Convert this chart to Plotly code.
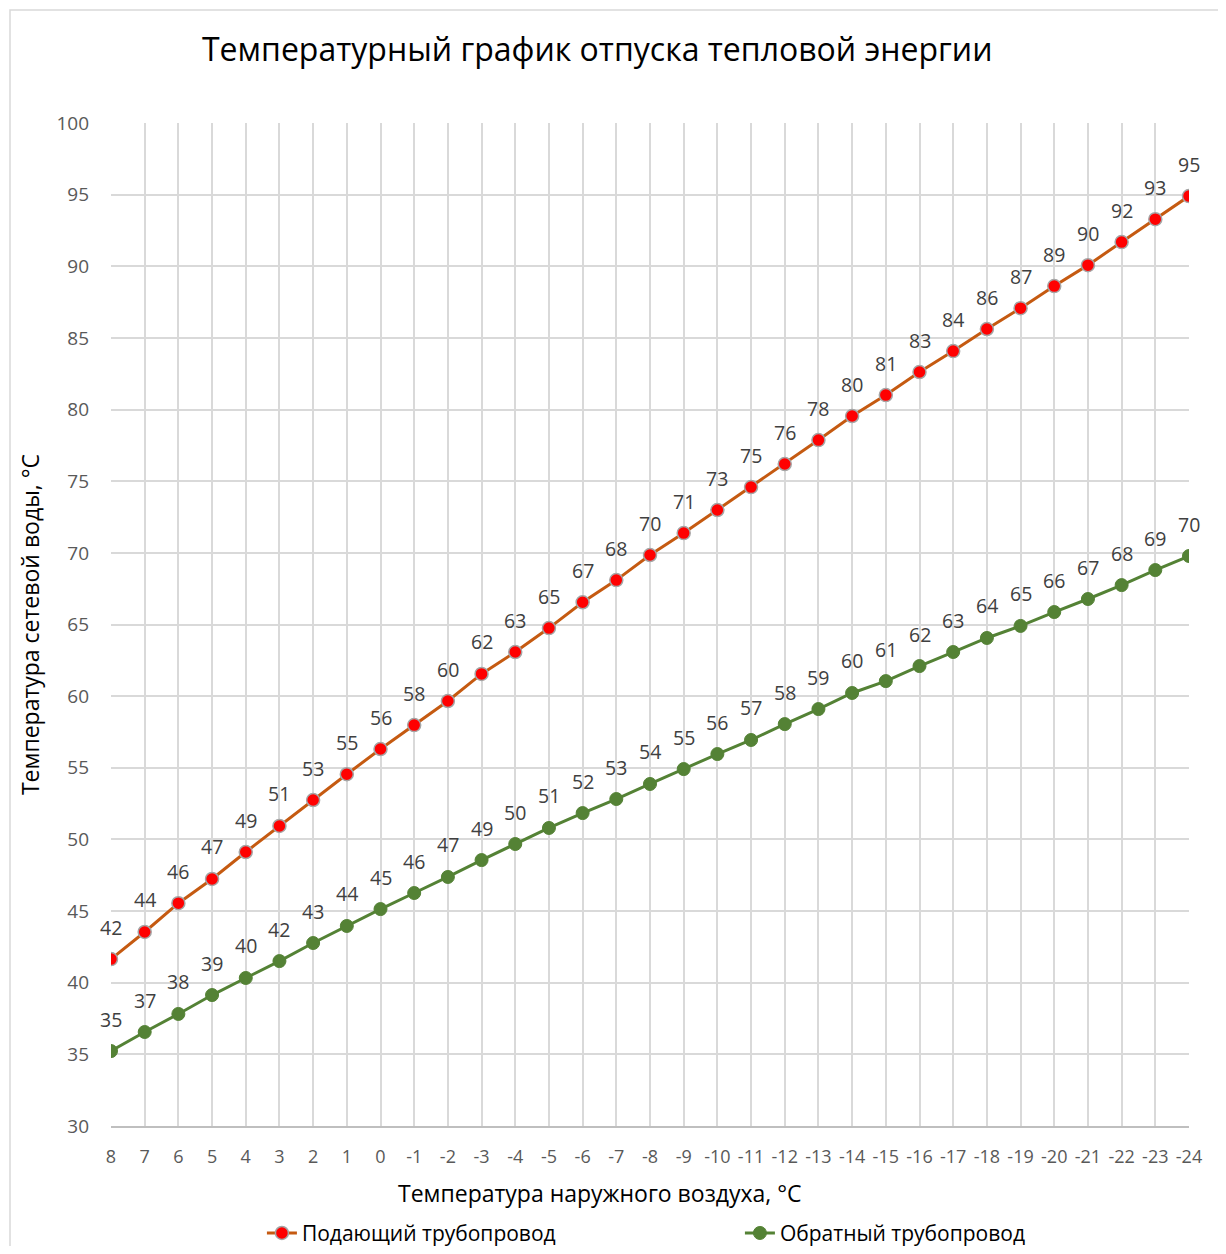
import plotly.graph_objects as go

categories = ["8", "7", "6", "5", "4", "3", "2", "1", "0", "-1", "-2", "-3", "-4", "-5", "-6", "-7", "-8",
              "-9", "-10", "-11", "-12", "-13", "-14", "-15", "-16", "-17", "-18", "-19", "-20", "-21",
              "-22", "-23", "-24"]
supply = [41.65, 43.54, 45.55, 47.24, 49.12, 50.94, 52.75, 54.55, 56.31, 57.98, 59.66, 61.55, 63.08,
          64.75, 66.55, 68.1, 69.85, 71.38, 72.99, 74.59, 76.2, 77.87, 79.55, 81.01, 82.62, 84.08,
          85.62, 87.08, 88.62, 90.08, 91.69, 93.29, 94.9]
ret = [35.23, 36.56, 37.82, 39.14, 40.33, 41.51, 42.77, 43.96, 45.14, 46.26, 47.38, 48.56, 49.68,
       50.8, 51.84, 52.82, 53.87, 54.91, 55.96, 56.94, 58.05, 59.1, 60.22, 61.05, 62.1, 63.08,
       64.06, 64.9, 65.87, 66.78, 67.75, 68.8, 69.78]
yticks = [30, 35, 40, 45, 50, 55, 60, 65, 70, 75, 80, 85, 90, 95, 100]

FONT = "Open Sans"
idx = list(range(len(categories)))

fig = go.Figure()
fig.add_trace(go.Scatter(
    x=idx, y=supply, mode="lines+markers", name="Подающий трубопровод",
    line=dict(color="#C55A11", width=3),
    marker=dict(color="#FF0000", size=13, line=dict(color="#A5A5A5", width=1.5)),
))
fig.add_trace(go.Scatter(
    x=idx, y=ret, mode="lines+markers", name="Обратный трубопровод",
    line=dict(color="#548235", width=3),
    marker=dict(color="#548235", size=13, line=dict(color="#548235", width=1)),
))

annotations = []
for series in (supply, ret):
    for i, v in zip(idx, series):
        annotations.append(dict(
            x=i, y=v, text=str(int(v + 0.5)), showarrow=False, yshift=32,
            font=dict(family=FONT, size=19.5, color="#404040"),
        ))

# x-axis title (offset left of the plot centre, as in the original)
annotations.append(dict(
    text="Температура наружного воздуха, °С", xref="paper", yref="paper",
    x=(600 - 111) / 1078, y=-(1193 - 1126) / 1003, xanchor="center", yanchor="middle",
    showarrow=False, font=dict(family=FONT, size=23, color="#000000"),
))

fig.update_layout(
    width=1210, height=1238,
    paper_bgcolor="white", plot_bgcolor="white",
    margin=dict(l=103, r=29, t=115, b=120, autoexpand=False),
    title=dict(text="Температурный график отпуска тепловой энергии",
               x=0.487, xanchor="center", y=0.966, yanchor="middle",
               font=dict(family=FONT, size=32, color="#000000")),
    xaxis=dict(
        range=[0, len(categories) - 1], tickvals=idx, ticktext=categories,
        showgrid=True, gridcolor="#D9D9D9", gridwidth=1.5,
        showline=True, linecolor="#BFBFBF", linewidth=1.5,
        ticks="", ticklabelstandoff=14,
        tickfont=dict(family=FONT, size=18, color="#595959"),
        zeroline=False,
    ),
    yaxis=dict(
        range=[30, 100], tickvals=yticks,
        showgrid=True, gridcolor="#D9D9D9", gridwidth=1.5,
        showline=False, zeroline=False, ticks="", ticklabelstandoff=21,
        tickfont=dict(family=FONT, size=19, color="#595959"),
        title=dict(text="Температура сетевой воды, °С",
                   font=dict(family=FONT, size=23, color="#000000"), standoff=10),
    ),
    legend=dict(orientation="h", x=0.14, xanchor="left", y=-0.107, yanchor="middle",
                entrywidth=433, font=dict(family=FONT, size=21, color="#000000")),
    annotations=annotations,
    shapes=[dict(type="rect", xref="paper", yref="paper",
                 x0=-101 / 1078, x1=1.2, y0=-0.3, y1=(1126 - 10) / 1003,
                 line=dict(color="#D9D9D9", width=1.5), fillcolor="rgba(0,0,0,0)", layer="below")],
)

fig.write_html("out.html")
